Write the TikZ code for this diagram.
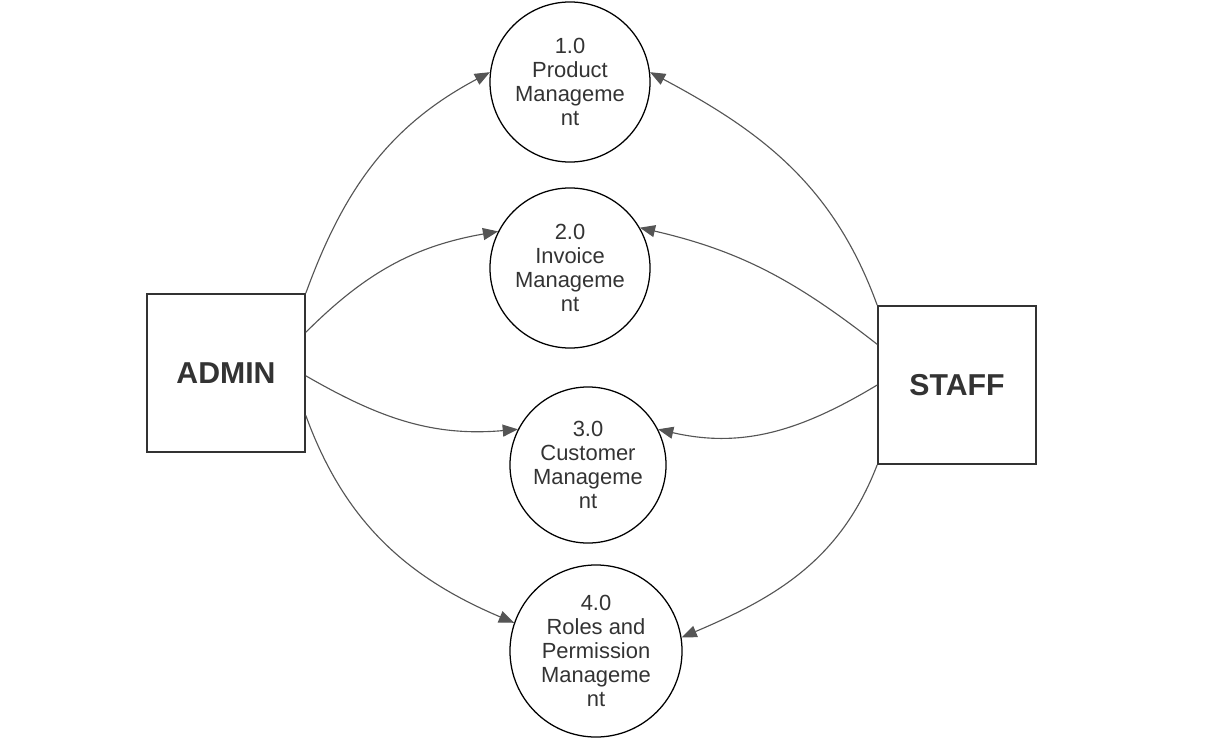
\documentclass[tikz,border=0pt]{standalone}
\usepackage{fontspec}
\setmainfont{Liberation Sans}
\usepackage{xcolor}
\definecolor{TextGray}  {RGB}{51, 51, 51}
\definecolor{LineGray}  {RGB}{85, 85, 85}
\definecolor{BoxGray}   {RGB}{51, 51, 51}
\usepackage{tikz}
\usetikzlibrary{
  shapes.geometric,
  arrows.meta,
  positioning
}

\begin{document}
\begin{tikzpicture}[
  x=0.025cm, y=-0.025cm,
  entity/.style={
    draw=BoxGray, line width=1.1pt,
    minimum size=3.95cm,
    text=TextGray,
    font=\fontsize{21.5}{24}\selectfont\bfseries},
  proc/.style={
    circle, draw=black, line width=0.9pt,
    align=center, inner sep=0pt,
    text=TextGray,
    font=\fontsize{15.6}{17.2}\selectfont},
  arrow/.style={
    -{Triangle[length=3.8mm, width=3mm]},
    draw=LineGray, line width=0.8pt}
]
\useasboundingbox (0,0) rectangle (1210,749);

\node[entity] (admin) at (226,373) {ADMIN};
\node[entity] (staff) at (957,385) {STAFF};

\node[proc, minimum size=4cm] (p1) at (570,82)
  {1.0\\Product\\Manageme\\nt};
\node[proc, minimum size=4cm] (p2) at (570,268)
  {2.0\\Invoice\\Manageme\\nt};
\node[proc, minimum size=3.9cm] (p3) at (588,465)
  {3.0\\Customer\\Manageme\\nt};
\node[proc, minimum size=4.3cm] (p4) at (596,651)
  {4.0\\Roles and\\Permission\\Manageme\\nt};

\draw[arrow] (admin.north east) to[out=70, in=208] (p1.173);
\draw[arrow] (admin.27) to[out=45, in=190] (p2.153);
\draw[arrow] (admin.-2) to[out=-30, in=185] (p3.153);
\draw[arrow] (admin.-28) to[out=-70, in=157] (p4.161);

\draw[arrow] (staff.north west) to[out=110, in=-28] (p1.7);
\draw[arrow] (staff.153) to[out=142, in=-13] (p2.30);
\draw[arrow] (staff.west) to[out=211, in=-13] (p3.27);
\draw[arrow] (staff.south west) to[out=249, in=23] (p4.9.5);

\end{tikzpicture}
\end{document}
